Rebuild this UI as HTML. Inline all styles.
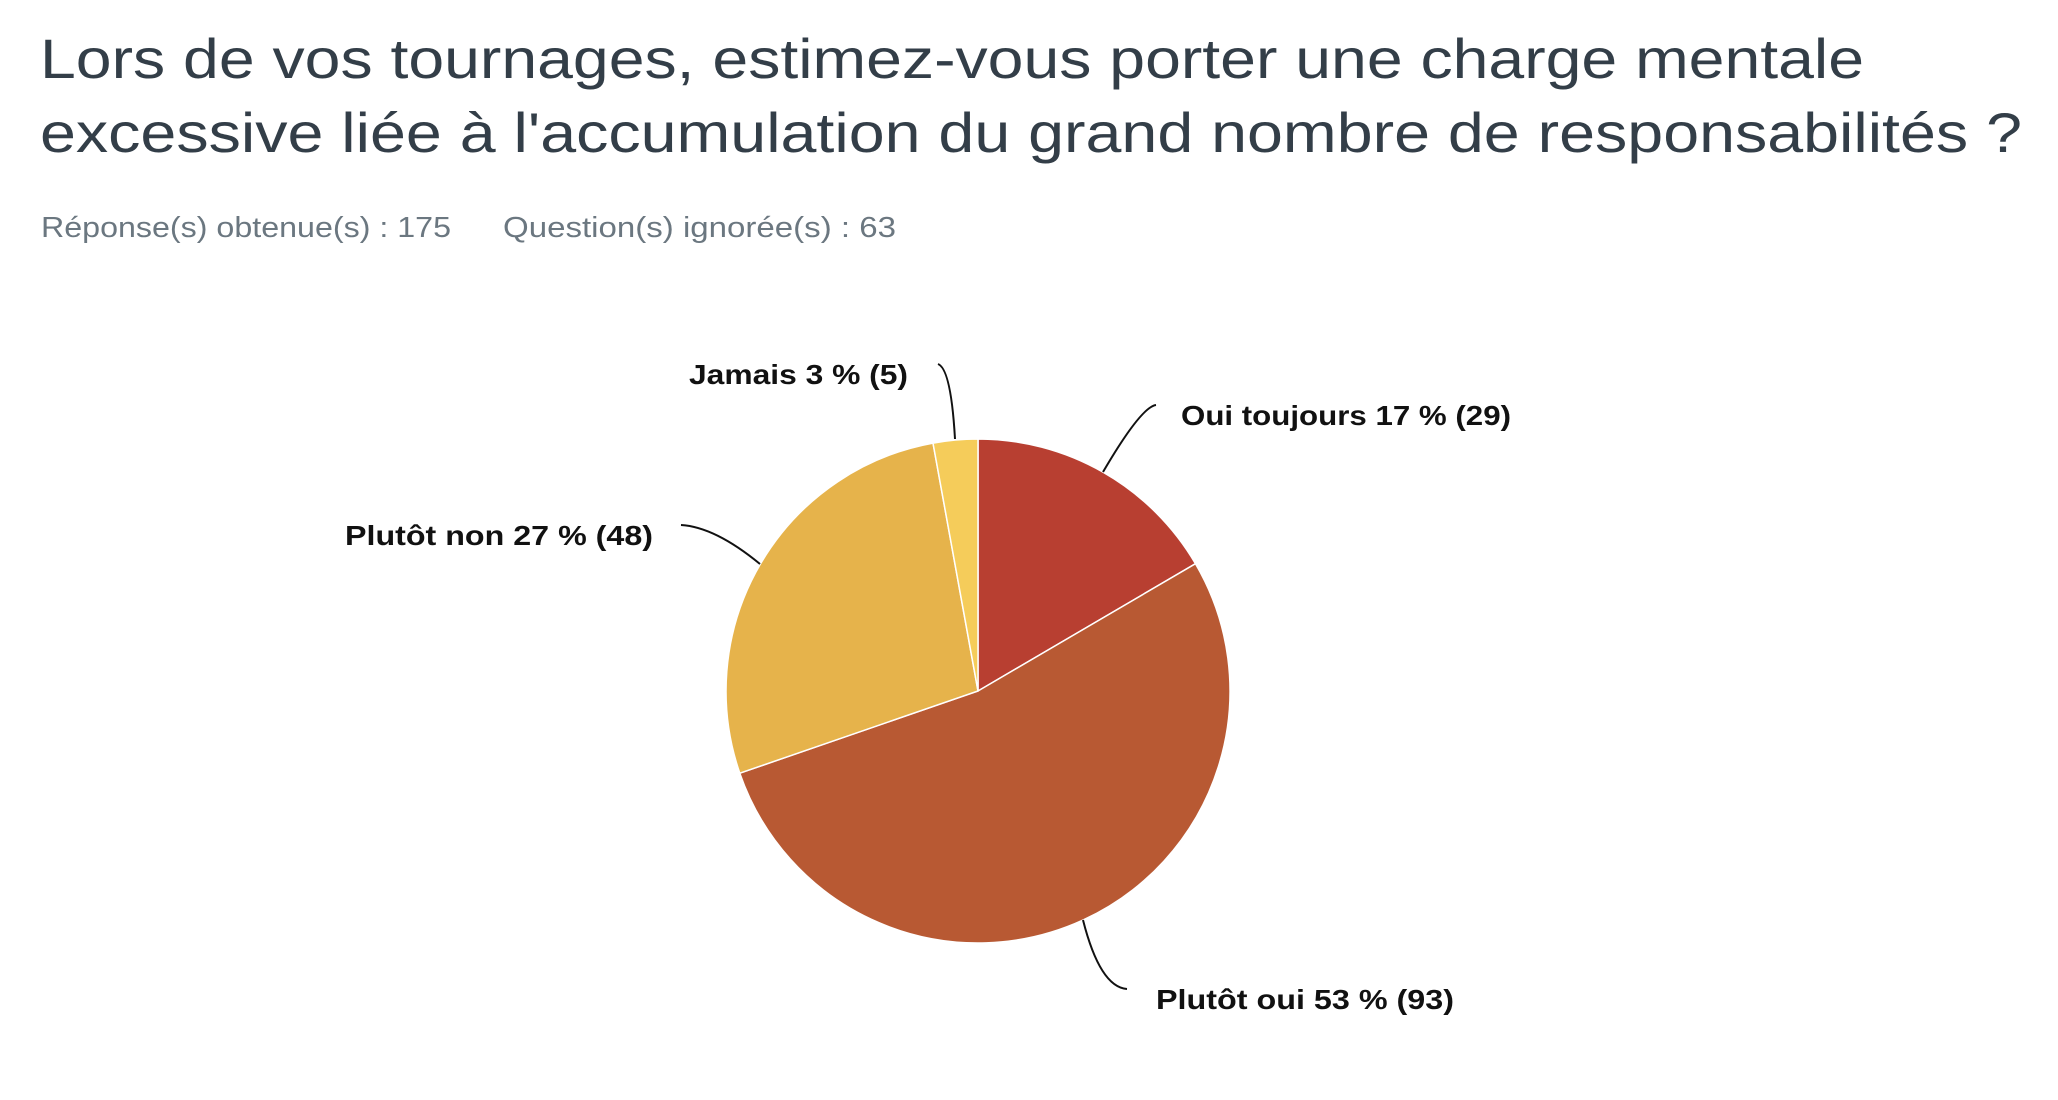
<!DOCTYPE html>
<html><head><meta charset="utf-8"><style>
html,body{margin:0;padding:0;background:#fff;width:2058px;height:1100px;overflow:hidden}
svg{display:block}
</style></head><body>
<svg width="2058" height="1100" viewBox="0 0 2058 1100" xmlns="http://www.w3.org/2000/svg">
<g font-family="Liberation Sans, sans-serif" fill="#333e48">
<text x="40" y="78" font-size="56" textLength="1824" lengthAdjust="spacingAndGlyphs">Lors de vos tournages, estimez-vous porter une charge mentale</text>
<text x="40" y="152" font-size="56" textLength="1982" lengthAdjust="spacingAndGlyphs">excessive liée à l'accumulation du grand nombre de responsabilités ?</text>
</g>
<g font-family="Liberation Sans, sans-serif" fill="#6b7780" font-size="29">
<text x="41" y="237" textLength="410" lengthAdjust="spacingAndGlyphs">Réponse(s) obtenue(s) : 175</text>
<text x="503" y="237" textLength="393" lengthAdjust="spacingAndGlyphs">Question(s) ignorée(s) : 63</text>
</g>
<g transform="translate(-5,-3)">
<g stroke="#fff" stroke-width="1.5">
<path d="M983,694 L983,442 A252,252 0 0 1 1200.5,566.7 Z" fill="#b83f31"/>
<path d="M983,694 L1200.5,566.7 A252,252 0 1 1 744.8,776.2 Z" fill="#b85933"/>
<path d="M983,694 L744.8,776.2 A252,252 0 0 1 938,446.1 Z" fill="#e6b34b"/>
<path d="M983,694 L938,446.1 A252,252 0 0 1 983,442 Z" fill="#f5cc5a"/>
</g>
<g fill="none" stroke="#111" stroke-width="2">
<path d="M943,367 Q956,372 960,442"/>
<path d="M1161,408 Q1146,410 1108,475"/>
<path d="M686,528 Q720,530 765,567"/>
<path d="M1088,923 Q1105,990 1132,992"/>
</g>
<g font-family="Liberation Sans, sans-serif" font-weight="bold" font-size="28" fill="#111">
<text x="694" y="387" textLength="219" lengthAdjust="spacingAndGlyphs">Jamais 3 % (5)</text>
<text x="1186" y="428" textLength="330" lengthAdjust="spacingAndGlyphs">Oui toujours 17 % (29)</text>
<text x="350" y="548" textLength="308" lengthAdjust="spacingAndGlyphs">Plutôt non 27 % (48)</text>
<text x="1161" y="1012" textLength="298" lengthAdjust="spacingAndGlyphs">Plutôt oui 53 % (93)</text>
</g>
</g>
</svg>
</body></html>
